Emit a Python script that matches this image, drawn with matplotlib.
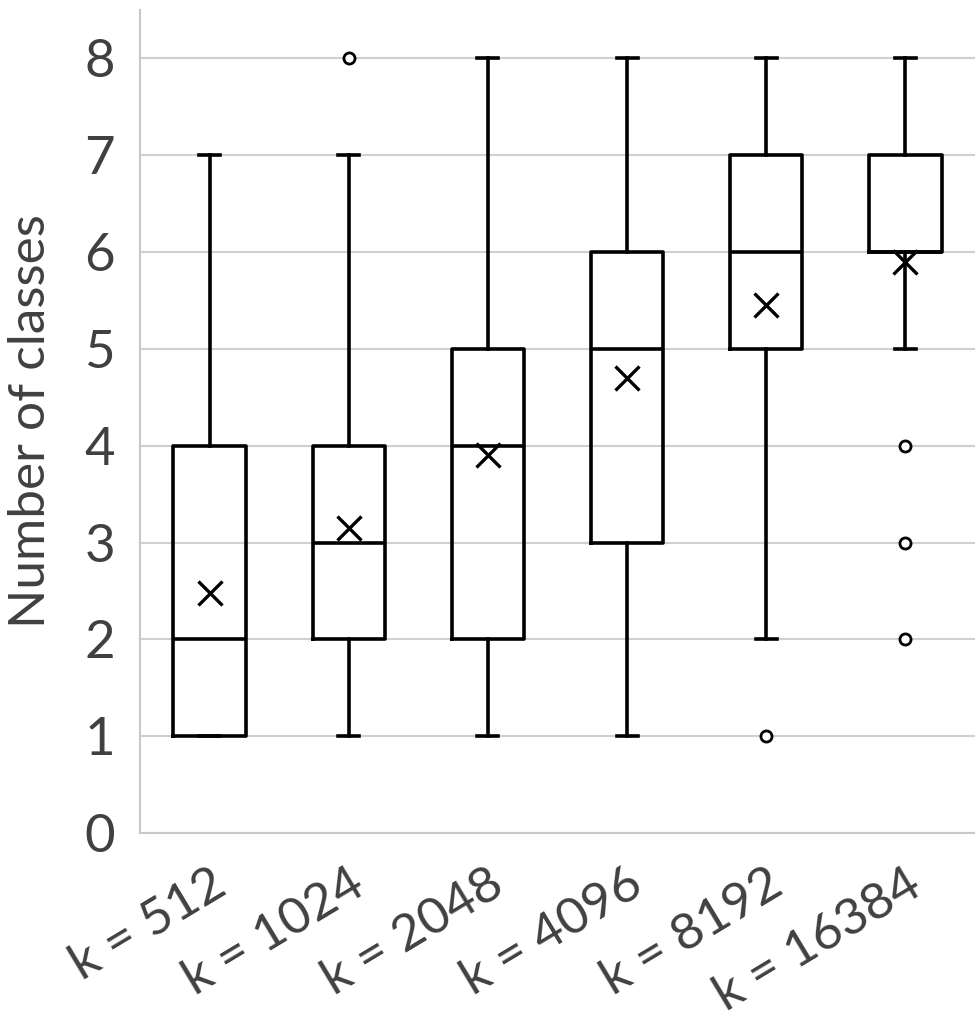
import matplotlib
matplotlib.use("Agg")
from matplotlib import pyplot as plt

# box statistics
labels = ["k = 512", "k = 1024", "k = 2048", "k = 4096", "k = 8192", "k = 16384"]
whisLo = [1, 1, 1, 1, 2, 5]
q1 = [1, 2, 2, 3, 5, 6]
med = [2, 3, 4, 5, 6, 6]
q3 = [4, 4, 5, 6, 7, 7]
whisHi = [7, 7, 8, 8, 8, 8]
means = [2.48, 3.15, 3.9, 4.7, 5.45, 5.9]
fliers = [[], [8], [], [], [1], [4, 3, 2]]

plt.rcParams['font.family'] = ['Lato', 'DejaVu Sans']

stats = []
for i in range(len(labels)):
    stats.append({"label": labels[i], "whislo": whisLo[i], "q1": q1[i], "med": med[i],
                  "q3": q3[i], "whishi": whisHi[i], "mean": means[i], "fliers": fliers[i]})

fig = plt.figure(figsize=(9.75, 10.18), dpi=100)
ax = fig.add_axes([140/975, 1 - 833/1018, 835/975, (833 - 10)/1018])

lw = 2.6
ax.bxp(stats, positions=range(1, 7), widths=0.52, showmeans=True, patch_artist=False,
       boxprops=dict(color='black', linewidth=lw),
       medianprops=dict(color='black', linewidth=lw),
       whiskerprops=dict(color='black', linewidth=lw),
       capprops=dict(color='black', linewidth=lw),
       capwidths=0.15,
       meanprops=dict(marker='x', markeredgecolor='black', markersize=17, markeredgewidth=2.4),
       flierprops=dict(marker='o', markerfacecolor='white', markeredgecolor='black',
                       markersize=8, markeredgewidth=2))

ax.set_xlim(0.5, 6.5)
ax.set_ylim(0, 8.5)
ax.set_yticks(range(0, 9))
ax.yaxis.grid(True, color='#d0d0d0', linewidth=1.5)
ax.set_axisbelow(True)
for s in ["top", "right"]:
    ax.spines[s].set_visible(False)
ax.spines["left"].set_color('#c8c8c8')
ax.spines["bottom"].set_color('#c8c8c8')
ax.spines["left"].set_linewidth(1.5)
ax.spines["bottom"].set_linewidth(1.5)
ax.tick_params(axis='y', length=0, labelsize=38, colors='#404040', pad=18)
ax.tick_params(axis='x', length=0, labelsize=37, colors='#404040', pad=20)
ax.set_xticklabels(labels, rotation=31, ha='right', rotation_mode='anchor')
ax.set_ylabel("Number of classes", fontsize=37, color='#404040', labelpad=22)

fig.savefig("out.png")
